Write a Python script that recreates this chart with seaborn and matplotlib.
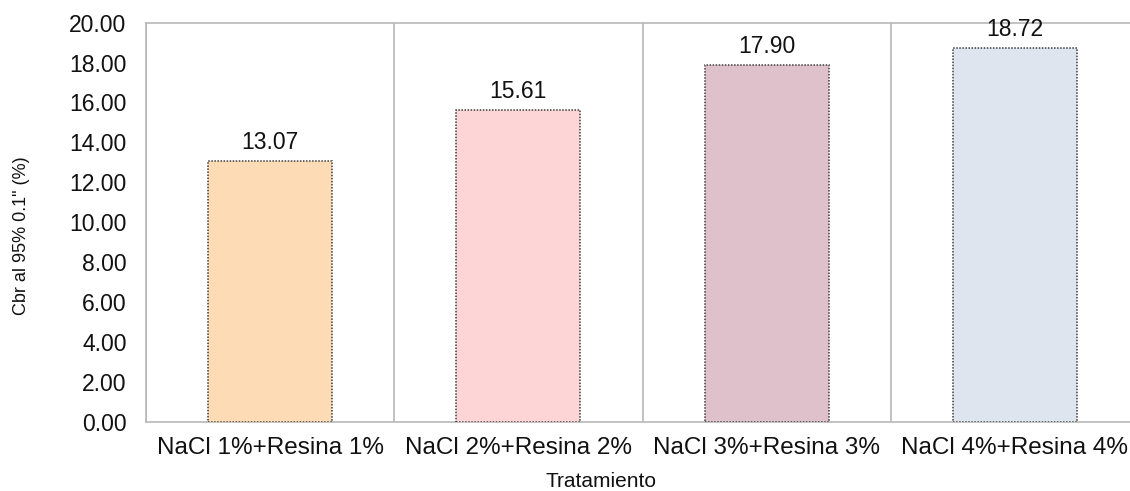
import matplotlib
matplotlib.use("Agg")
import matplotlib.pyplot as plt
import seaborn as sns
import pandas as pd

# Chart data
tratamientos = ["NaCl 1%+Resina 1%", "NaCl 2%+Resina 2%",
                "NaCl 3%+Resina 3%", "NaCl 4%+Resina 4%"]
cbr_valores = [13.07, 15.61, 17.90, 18.72]
colores = ["#FDDBB4", "#FDD5D6", "#DFC1CB", "#DEE5EF"]
y_ticks = [0, 2, 4, 6, 8, 10, 12, 14, 16, 18, 20]

sns.set_theme(style="white")
plt.rcParams["font.family"] = ["Liberation Sans", "DejaVu Sans"]

grid_gray = "#b8b8b8"

df = pd.DataFrame({"Tratamiento": tratamientos, "Cbr": cbr_valores})

fig = plt.figure(figsize=(11.3, 4.91), dpi=100)
ax = fig.add_axes([146 / 1130, 69.3 / 491, 993 / 1130, 399 / 491])

sns.barplot(data=df, x="Tratamiento", y="Cbr", hue="Tratamiento",
            palette=colores, saturation=1, width=0.5, legend=False,
            ax=ax, zorder=3)

for patch in ax.patches:
    patch.set_edgecolor("#3d3d3d")
    patch.set_linestyle((0, (1, 1)))
    patch.set_linewidth(1.1)

# Value labels above bars
for i, v in enumerate(cbr_valores):
    ax.annotate(f"{v:.2f}", xy=(i, v), xytext=(0, 5), textcoords="offset points",
                ha="center", va="bottom", fontsize=16.5, color="#111111")

ax.set_xlim(-0.5, len(tratamientos) - 0.5)
ax.set_ylim(0, 20)
ax.set_yticks(y_ticks)
ax.set_yticklabels([f"{t:.2f}" for t in y_ticks])

# Category boundaries carry tick marks and vertical grid lines; names sit at centers
ax.set_xticks([i - 0.5 for i in range(len(tratamientos) + 1)])
ax.set_xticklabels([])
ax.set_xticks(range(len(tratamientos)), minor=True)
ax.set_xticklabels(tratamientos, minor=True)
ax.tick_params(axis="x", which="major", length=8, width=1.2, color=grid_gray, direction="out")
ax.tick_params(axis="x", which="minor", length=0, pad=11, labelsize=17.5, labelcolor="#111111")
ax.tick_params(axis="y", length=7, width=1.2, color=grid_gray, direction="out",
               pad=7, labelsize=16.5, labelcolor="#111111")
ax.xaxis.grid(True, which="major", color=grid_gray, linewidth=1.2, zorder=0)
ax.yaxis.grid(False)

for side in ["left", "bottom", "top"]:
    ax.spines[side].set_visible(True)
    ax.spines[side].set_color(grid_gray)
    ax.spines[side].set_linewidth(1.2)
ax.spines["right"].set_visible(False)

ax.set_xlabel("Tratamiento", fontsize=15, color="#111111")
ax.xaxis.set_label_coords(0.458, -0.151)
ax.xaxis.label.set_va("center")
ax.set_ylabel("Cbr al 95% 0.1\" (%)", fontsize=13, color="#111111")
ax.yaxis.set_label_coords(-0.125, 0.465)
ax.yaxis.label.set_va("center")

fig.savefig("out.png", dpi=100)
